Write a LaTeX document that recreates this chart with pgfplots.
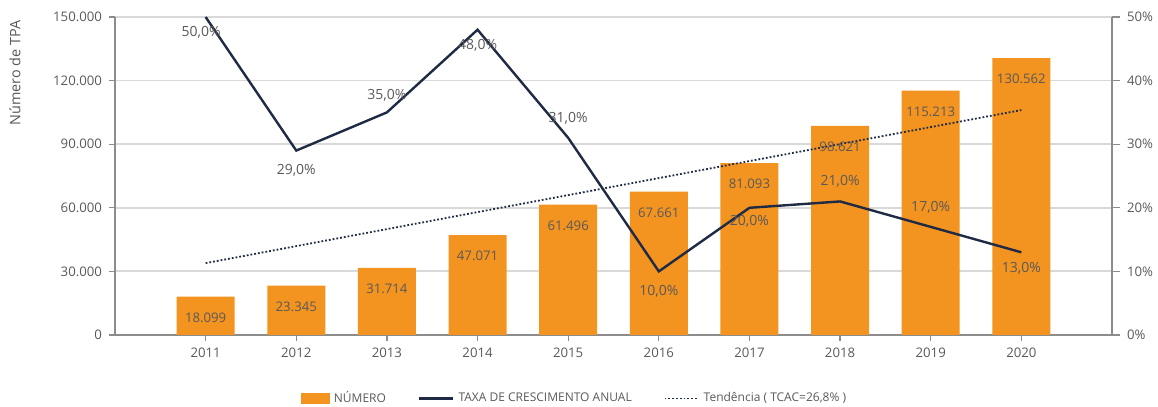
\documentclass[border=0pt]{standalone}
\usepackage{pgfplots}
\pgfplotsset{compat=1.18}
\usepackage{fontspec}
\setmainfont{Open Sans}
\definecolor{barorange}{HTML}{F39320}
\definecolor{navy}{HTML}{1F2A44}
\definecolor{txt}{HTML}{595959}
\definecolor{gridc}{HTML}{D9D9D9}
\definecolor{axc}{HTML}{8C8C8C}
\begin{document}
\begin{tikzpicture}[font=\fontsize{6.6}{8}\selectfont]
\useasboundingbox (0,0) rectangle (579pt,203.5pt);
\begin{axis}[
  at={(57.5pt,36pt)}, anchor=south west,
  scale only axis, width=498.5pt, height=159pt,
  xmin=2010, xmax=2021, ymin=0, ymax=150000,
  scaled y ticks=false,
  xtick={2011,2012,2013,2014,2015,2016,2017,2018,2019,2020},
  xticklabels={2011,2012,2013,2014,2015,2016,2017,2018,2019,2020},
  ytick={0,30000,60000,90000,120000,150000},
  yticklabels={0,30.000,60.000,90.000,120.000,150.000},
  axis x line*=bottom, axis y line*=left,
  ymajorgrids, grid style={gridc, line width=0.9pt},
  axis line style={axc, line width=0.8pt},
  tick style={axc, line width=0.6pt}, tick align=outside, major tick length=3pt,
  ticklabel style={txt},
  ybar, bar width=0.64,
  clip=false,
]
\addplot[fill=barorange, draw=none] coordinates {
 (2011,18099) (2012,23345) (2013,31714) (2014,47071) (2015,61496)
 (2016,67661) (2017,81093) (2018,98621) (2019,115213) (2020,130562)};
\addplot[sharp plot, navy, densely dotted, line width=0.9pt] coordinates {(2011,33900) (2020,106100)};
\begin{scope}[every node/.style={txt, font=\fontsize{6.6}{8}\selectfont, anchor=north, yshift=-4.5pt}]
\node at (axis cs:2011,18099) {18.099};
\node at (axis cs:2012,23345) {23.345};
\node at (axis cs:2013,31714) {31.714};
\node at (axis cs:2014,47071) {47.071};
\node at (axis cs:2015,61496) {61.496};
\node at (axis cs:2016,67661) {67.661};
\node at (axis cs:2017,81093) {81.093};
\node at (axis cs:2018,98621) {98.621};
\node at (axis cs:2019,115213) {115.213};
\node at (axis cs:2020,130562) {130.562};
\end{scope}
\end{axis}
\begin{axis}[
  at={(57.5pt,36pt)}, anchor=south west,
  scale only axis, width=498.5pt, height=159pt,
  xmin=2010, xmax=2021, ymin=0, ymax=50,
  axis x line=none, axis y line*=right,
  ytick={0,10,20,30,40,50},
  yticklabels={0\%,10\%,20\%,30\%,40\%,50\%},
  axis line style={axc, line width=0.8pt},
  tick style={axc, line width=0.6pt}, tick align=outside, major tick length=4pt,
  ticklabel style={txt},
  clip=false,
  legend style={at={(0.462,-0.2)}, anchor=center, draw=none, fill=none,
    font=\fontsize{6}{7}\selectfont, text=txt, legend columns=-1,
    /tikz/every even column/.append style={column sep=14pt}},
]
\addlegendimage{legend image code/.code={\fill[barorange] (0pt,-2.6pt) rectangle (14pt,2.6pt);}}
\addlegendentry{NÚMERO}
\addplot[navy, line width=1.2pt, mark=none] coordinates {
 (2011,50) (2012,29) (2013,35) (2014,48) (2015,31)
 (2016,10) (2017,20) (2018,21) (2019,17) (2020,13)};
\addlegendentry{TAXA DE CRESCIMENTO ANUAL}
\addlegendimage{navy, densely dotted, line width=0.9pt}
\addlegendentry{Tendência ( TCAC=26,8\% )}
\begin{scope}[every node/.style={txt, font=\fontsize{7}{8.5}\selectfont}]
\node at (axis cs:2010.95,47.6) {50,0\%};
\node at (axis cs:2012,25.9) {29,0\%};
\node at (axis cs:2013,37.7) {35,0\%};
\node at (axis cs:2014,45.6) {48,0\%};
\node at (axis cs:2015,34.1) {31,0\%};
\node at (axis cs:2016,6.8) {10,0\%};
\node at (axis cs:2017,17.8) {20,0\%};
\node at (axis cs:2018,24.1) {21,0\%};
\node at (axis cs:2019,20.1) {17,0\%};
\node at (axis cs:2020,10.5) {13,0\%};
\end{scope}
\end{axis}
\node[rotate=90, txt, font=\fontsize{7.2}{8.5}\selectfont] at (7.5pt,167pt) {Número de TPA};
\end{tikzpicture}
\end{document}
